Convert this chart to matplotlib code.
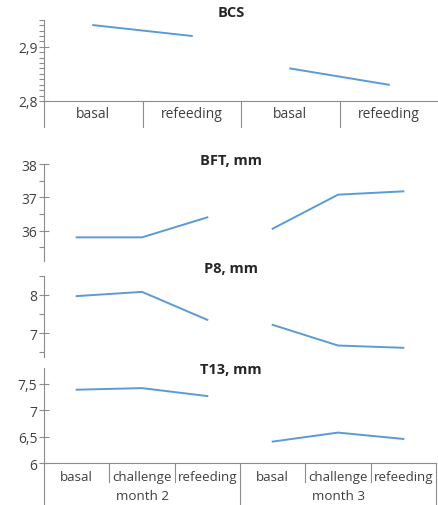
import matplotlib
matplotlib.use('Agg')
import matplotlib.pyplot as plt
from matplotlib.ticker import FuncFormatter, MultipleLocator
import matplotlib.transforms as mtransforms

plt.rcParams['font.family'] = ['Open Sans', 'DejaVu Sans']

months = ['month 2', 'month 3']
phases3 = ['basal', 'challenge', 'refeeding']
phases2 = ['basal', 'refeeding']

bcs_m2 = [2.94, 2.92]
bcs_m3 = [2.86, 2.83]
bft_m2 = [35.8, 35.8, 36.4]
bft_m3 = [36.06, 37.08, 37.18]
p8_m2 = [7.97, 8.08, 7.35]
p8_m3 = [7.22, 6.68, 6.62]
t13_m2 = [7.39, 7.42, 7.27]
t13_m3 = [6.41, 6.58, 6.46]

W, H = 438, 506
fig = plt.figure(figsize=(W / 100, H / 100), dpi=100)

blue = '#5B9BD5'
grey = '#8c8c8c'
txt = '#404040'


def px_axes(left, top, right, bottom):
    return fig.add_axes([left / W, 1 - bottom / H, (right - left) / W, (bottom - top) / H])


def comma(v, pos):
    s = ('%g' % round(v, 3))
    return s.replace('.', ',')


def setup(ax, n, ylim, major, minor=None, xaxis=False):
    ax.set_xlim(-0.5, n - 0.5)
    ax.set_ylim(*ylim)
    for s in ['top', 'right']:
        ax.spines[s].set_visible(False)
    ax.spines['left'].set_color(grey)
    ax.spines['bottom'].set_color(grey)
    ax.spines['bottom'].set_visible(xaxis)
    ax.set_xticks([])
    ax.yaxis.set_major_locator(MultipleLocator(major))
    ax.yaxis.set_major_formatter(FuncFormatter(comma))
    if minor:
        ax.yaxis.set_minor_locator(MultipleLocator(minor))
    ax.tick_params(axis='y', which='major', direction='inout', length=6.5, width=0.8,
                   color=grey, labelsize=10, labelcolor=txt, pad=1.5)
    ax.tick_params(axis='y', which='minor', direction='out', length=3.5, width=0.8, color=grey)
    ax.patch.set_alpha(0)


def title(y, s):
    fig.text(231 / W, 1 - y / H, s, ha='center', va='center', fontsize=10.5,
             fontweight='bold', color='#262626')


def vline(ax, x, y0, y1):
    tr = mtransforms.blended_transform_factory(ax.transData, ax.transAxes)
    ax.plot([x, x], [y0, y1], color=grey, lw=0.8, transform=tr, clip_on=False)


# BCS
ax = px_axes(44, 20.7, 438, 102)
setup(ax, 4, (2.8, 2.95), 0.1, 0.01, xaxis=True)
ax.plot([0, 1], bcs_m2, color=blue, lw=1.4)
ax.plot([2, 3], bcs_m3, color=blue, lw=1.4)
lo = -26 / 81.3
vline(ax, -0.5, lo, 0)
for k in range(3):
    vline(ax, k + 0.5, lo, 0)
tr = mtransforms.blended_transform_factory(ax.transData, ax.transAxes)
for k, lab in enumerate(phases2 * 2):
    ax.text(k, -13 / 81.3, lab, transform=tr, ha='center', va='center', fontsize=10, color=txt)
title(13.3, 'BCS')

# BFT
ax = px_axes(44, 165, 436, 261.7)
setup(ax, 6, (35.1, 38), 1, 0.5)
ax.plot([0, 1, 2], bft_m2, color=blue, lw=1.4)
ax.plot([3, 4, 5], bft_m3, color=blue, lw=1.4)
title(160.7, 'BFT, mm')

# P8
ax = px_axes(44, 276.8, 436, 358)
setup(ax, 6, (6.38, 8.5), 1, 0.5)
ax.plot([0, 1, 2], p8_m2, color=blue, lw=1.4)
ax.plot([3, 4, 5], p8_m3, color=blue, lw=1.4)
title(269.3, 'P8, mm')

# T13
ax = px_axes(44, 369, 436, 464.3)
setup(ax, 6, (6, 7.8), 0.5, xaxis=True)
ax.plot([0, 1, 2], t13_m2, color=blue, lw=1.4)
ax.plot([3, 4, 5], t13_m3, color=blue, lw=1.4)
hgt = 464.3 - 369
tr = mtransforms.blended_transform_factory(ax.transData, ax.transAxes)
for k in [0.5, 1.5, 3.5, 4.5]:
    vline(ax, k, -19 / hgt, 0)
for k in [-0.5, 2.5, 5.5]:
    vline(ax, k, -42 / hgt, 0)
for k, lab in enumerate(phases3 * 2):
    ax.text(k, -13.4 / hgt, lab, transform=tr, ha='center', va='center', fontsize=9.6, color=txt)
for k, lab in enumerate(months):
    ax.text(3 * k + 1, -32.4 / hgt, lab, transform=tr, ha='center', va='center', fontsize=9.6, color=txt)
title(370, 'T13, mm')

fig.savefig('out.png', dpi=100)
